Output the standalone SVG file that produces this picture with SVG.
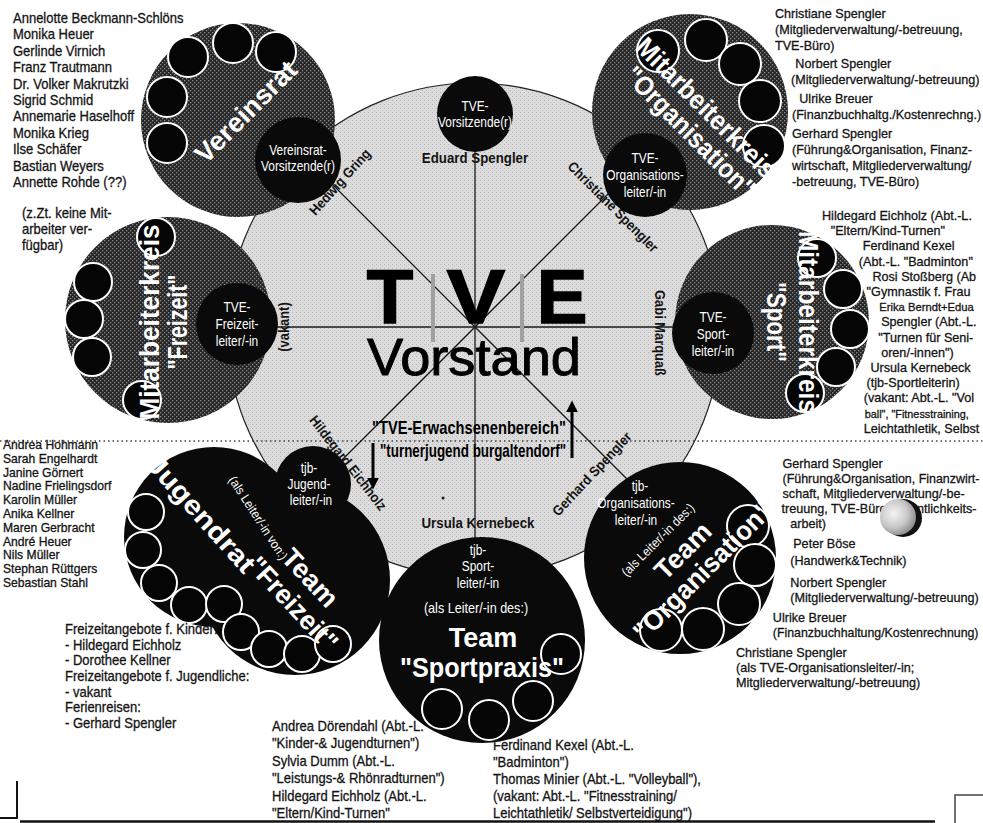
<svg xmlns="http://www.w3.org/2000/svg" width="983" height="823" viewBox="0 0 983 823">
<defs>
<pattern id="dk" width="4" height="4" patternUnits="userSpaceOnUse"><rect width="4" height="4" fill="#262626"/><rect x="0" y="0" width="1.3" height="1.3" fill="#8a8a8a"/><rect x="2" y="2" width="1.3" height="1.3" fill="#8a8a8a"/></pattern>
<pattern id="lt" width="4" height="4" patternUnits="userSpaceOnUse"><rect width="4" height="4" fill="#dcdcdc"/><rect x="0" y="0" width="1" height="1" fill="#b3b3b3"/><rect x="2" y="2" width="1" height="1" fill="#c0c0c0"/></pattern>
<radialGradient id="ball" cx="0.38" cy="0.4" r="0.65"><stop offset="0" stop-color="#f4f4f4"/><stop offset="0.6" stop-color="#c8c8c8"/><stop offset="1" stop-color="#8a8a8a"/></radialGradient>
<marker id="ah" viewBox="0 0 10 10" refX="2" refY="5" markerWidth="4" markerHeight="4" orient="auto"><path d="M0,0 L10,5 L0,10 z" fill="#000"/></marker>
<style>
text{font-family:'Liberation Sans',Arial,Helvetica,sans-serif}
.t{font-size:14px;fill:#141414;stroke:#141414;stroke-width:0.3}
.r{font-size:13px;fill:#141414;stroke:#141414;stroke-width:0.3}
.s{font-size:12.5px;fill:#141414;stroke:#141414;stroke-width:0.3}
.w{font-size:14px;fill:#fff}
.lb{font-size:14px;font-weight:bold;fill:#141414}
.big{font-size:27px;font-weight:bold;fill:#fff}
.c{text-anchor:middle;dominant-baseline:central}
.dk{fill:url(#dk)}
.bk{fill:#0a0a0a}
.sc{fill:#050505;stroke:#fff;stroke-width:2}
.sp{stroke:#1a1a1a;stroke-width:1.3;fill:none}
.tve{font-size:76px;font-weight:bold;fill:#000;stroke:#000;stroke-width:1.6}
</style>
</defs>
<rect width="983" height="823" fill="#fff"/>

<g id="vorstand-disc">
<circle cx="474" cy="330" r="247" fill="url(#lt)" stroke="#222" stroke-width="1.2"/>
</g>
<line x1="0" y1="441" x2="983" y2="441" stroke="#444" stroke-width="1.3" stroke-dasharray="1.5,3"/>

<g id="connectors" class="sp">
<line x1="475" y1="150" x2="475" y2="545"/>
<line x1="275" y1="327" x2="675" y2="327"/>
<line x1="330" y1="182" x2="630" y2="482"/>
<line x1="625" y1="177" x2="315" y2="487"/>
</g>

<g id="vereinsrat">
<circle cx="238" cy="120" r="97" class="dk"/>
<circle cx="167" cy="143" r="20" class="sc"/>
<circle cx="167" cy="97" r="20" class="sc"/>
<circle cx="188" cy="57" r="20" class="sc"/>
<circle cx="233" cy="43" r="20" class="sc"/>
<circle cx="276" cy="52" r="20" class="sc"/>
<text class="big c" transform="translate(246,112) rotate(-45)" textLength="132" lengthAdjust="spacingAndGlyphs">Vereinsrat</text>
</g>
<g id="vereinsrat-vorsitz">
<circle cx="298" cy="160" r="43" class="bk"/>
<text class="w c" transform="translate(298,150) scale(0.85,1)">Vereinsrat-</text>
<text class="w c" transform="translate(298,166) scale(0.85,1)">Vorsitzende(r)</text>
</g>

<g id="tve-vorsitz">
<circle cx="475" cy="114" r="38" class="bk"/>
<text class="w c" transform="translate(475,106) scale(0.85,1)">TVE-</text>
<text class="w c" transform="translate(475,122) scale(0.85,1)">Vorsitzende(r)</text>
</g>

<g id="mk-organisation">
<circle cx="690" cy="112" r="98" class="dk"/>
<circle cx="658" cy="51" r="21" class="sc"/>
<circle cx="706" cy="40" r="21" class="sc"/>
<circle cx="740" cy="64" r="21" class="sc"/>
<circle cx="760" cy="101" r="21" class="sc"/>
<circle cx="764" cy="146" r="21" class="sc"/>
<text class="big c" transform="translate(706,108) rotate(45)" textLength="186" lengthAdjust="spacingAndGlyphs">Mitarbeiterkreis</text>
<text class="big c" transform="translate(690,132) rotate(45)" textLength="172" lengthAdjust="spacingAndGlyphs">"Organisation"</text>
</g>
<g id="tve-orgaleiter">
<circle cx="645" cy="175" r="42" class="bk"/>
<text class="w c" transform="translate(645,158) scale(0.85,1)">TVE-</text>
<text class="w c" transform="translate(645,175) scale(0.85,1)">Organisations-</text>
<text class="w c" transform="translate(645,192) scale(0.85,1)">leiter/-in</text>
</g>

<g id="mk-sport">
<circle cx="772" cy="322" r="97" class="dk"/>
<circle cx="817" cy="258" r="19" class="sc"/>
<circle cx="843" cy="289" r="19" class="sc"/>
<circle cx="850" cy="329" r="19" class="sc"/>
<circle cx="836" cy="367" r="19" class="sc"/>
<circle cx="805" cy="393" r="19" class="sc"/>
<text class="big c" transform="translate(808,322) rotate(90)" textLength="182" lengthAdjust="spacingAndGlyphs">Mitarbeiterkreis</text>
<text class="big c" transform="translate(776,322) rotate(90)" textLength="80" lengthAdjust="spacingAndGlyphs">"Sport"</text>
</g>
<g id="tve-sportleiter">
<circle cx="713" cy="333" r="41" class="bk"/>
<text class="w c" transform="translate(713,317) scale(0.85,1)">TVE-</text>
<text class="w c" transform="translate(713,334) scale(0.85,1)">Sport-</text>
<text class="w c" transform="translate(713,351) scale(0.85,1)">leiter/-in</text>
</g>

<g id="mk-freizeit">
<circle cx="168" cy="320" r="103" class="dk"/>
<circle cx="156" cy="237" r="19" class="sc"/>
<circle cx="93" cy="282" r="19" class="sc"/>
<circle cx="84" cy="319" r="19" class="sc"/>
<circle cx="92" cy="357" r="19" class="sc"/>
<circle cx="142" cy="400" r="19" class="sc"/>
<text class="big c" transform="translate(150,322) rotate(-90)" textLength="195" lengthAdjust="spacingAndGlyphs">Mitarbeiterkreis</text>
<text class="big c" transform="translate(178,322) rotate(-90)" textLength="95" lengthAdjust="spacingAndGlyphs">"Freizeit"</text>
</g>
<g id="tve-freizeitleiter">
<circle cx="237" cy="324" r="41" class="bk"/>
<text class="w c" transform="translate(237,307) scale(0.85,1)">TVE-</text>
<text class="w c" transform="translate(237,324) scale(0.85,1)">Freizeit-</text>
<text class="w c" transform="translate(237,341) scale(0.85,1)">leiter/-in</text>
</g>

<g id="jugendrat-team-freizeit">
<circle cx="214" cy="537" r="90" class="bk"/>
<circle cx="295" cy="580" r="95" class="bk"/>
<circle cx="146" cy="512" r="18" class="sc"/>
<circle cx="143" cy="550" r="18" class="sc"/>
<circle cx="159" cy="583" r="18" class="sc"/>
<circle cx="189" cy="605" r="18" class="sc"/>
<circle cx="224" cy="604" r="18" class="sc"/>
<circle cx="241" cy="632" r="18" class="sc"/>
<circle cx="269" cy="649" r="18" class="sc"/>
<circle cx="302" cy="654" r="18" class="sc"/>
<circle cx="333" cy="644" r="18" class="sc"/>
<text class="big c" transform="translate(201,514) rotate(48)" textLength="148" lengthAdjust="spacingAndGlyphs">Jugendrat</text>
<text class="big c" transform="translate(310,578) rotate(47)">Team</text>
<text class="big c" transform="translate(293,604) rotate(47)" textLength="118" lengthAdjust="spacingAndGlyphs">"Freizeit"</text>
<text class="w c" transform="translate(258,518) rotate(57) scale(0.9,1)" style="font-size:13px">(als Leiter/-in von:)</text>
</g>
<g id="tjb-jugendleiter">
<circle cx="313" cy="484" r="38" class="bk"/>
<text class="w c" transform="translate(309,468) scale(0.85,1)">tjb-</text>
<text class="w c" transform="translate(309,484) scale(0.85,1)">Jugend-</text>
<text class="w c" transform="translate(311,500) scale(0.85,1)">leiter/-in</text>
</g>

<g id="team-sportpraxis">
<circle cx="482" cy="640" r="103" class="bk"/>
<circle cx="561" cy="654" r="20" class="sc"/>
<circle cx="533" cy="701" r="20" class="sc"/>
<circle cx="489" cy="720" r="20" class="sc"/>
<circle cx="442" cy="709" r="20" class="sc"/>
<text class="w c" transform="translate(478,550) scale(0.85,1)">tjb-</text>
<text class="w c" transform="translate(478,566) scale(0.85,1)">Sport-</text>
<text class="w c" transform="translate(478,583) scale(0.85,1)">leiter/-in</text>
<text class="w c" transform="translate(476,608) scale(0.9,1)">(als Leiter/-in des:)</text>
<text class="big c" transform="translate(483,638)">Team</text>
<text class="big c" transform="translate(482,668)" textLength="164" lengthAdjust="spacingAndGlyphs">"Sportpraxis"</text>
</g>

<g id="team-organisation">
<circle cx="680" cy="558" r="96" class="bk"/>
<circle cx="748" cy="526" r="21" class="sc"/>
<circle cx="755" cy="565" r="21" class="sc"/>
<circle cx="739" cy="604" r="21" class="sc"/>
<circle cx="703" cy="629" r="21" class="sc"/>
<circle cx="661" cy="630" r="21" class="sc"/>
<text class="w c" transform="translate(640,486) scale(0.85,1)">tjb-</text>
<text class="w c" transform="translate(636,503) scale(0.85,1)">Organisations-</text>
<text class="w c" transform="translate(636,520) scale(0.85,1)">leiter/-in</text>
<text class="w c" transform="translate(658,540) rotate(-45) scale(0.9,1)" style="font-size:13px">(als Leiter/-in des:)</text>
<text class="big c" transform="translate(683,551) rotate(-45)">Team</text>
<text class="big c" transform="translate(703,571) rotate(-45)" textLength="184" lengthAdjust="spacingAndGlyphs">"Organisation"</text>
</g>

<g id="spoke-labels" class="lb">
<text class="c" transform="translate(475,158) scale(0.95,1)">Eduard Spengler</text>
<text class="c" transform="translate(340,182) rotate(-48) scale(0.92,1)">Hedwig Gring</text>
<text class="c" transform="translate(613,207) rotate(45) scale(0.92,1)">Christiane Spengler</text>
<text class="c" transform="translate(284,327) rotate(-90) scale(0.92,1)">(vakant)</text>
<text class="c" transform="translate(660,333) rotate(90) scale(0.92,1)">Gabi Marquaß</text>
<text class="c" transform="translate(348,463) rotate(52) scale(0.92,1)">Hildegard Eichholz</text>
<text class="c" transform="translate(592,474) rotate(-47) scale(0.92,1)">Gerhard Spengler</text>
<text class="c" transform="translate(478,523) scale(0.95,1)">Ursula Kernebeck</text>
</g>

<g id="center-title">
<rect x="431" y="274" width="4" height="68" fill="#a0a0a0"/>
<rect x="520" y="274" width="4" height="68" fill="#a0a0a0"/>
<text x="390" y="323" text-anchor="middle" class="tve">T</text>
<text transform="translate(476,323) scale(1.15,1)" text-anchor="middle" class="tve">V</text>
<text x="562" y="323" text-anchor="middle" class="tve">E</text>
<text x="474" y="375" text-anchor="middle" textLength="214" lengthAdjust="spacingAndGlyphs" style="font-size:52px;fill:#000;stroke:#000;stroke-width:0.9">Vorstand</text>
<text x="372" y="434" textLength="194" lengthAdjust="spacingAndGlyphs" style="font-size:19px;font-weight:bold;fill:#000">"TVE-Erwachsenenbereich"</text>
<text x="380" y="457" textLength="186" lengthAdjust="spacingAndGlyphs" style="font-size:19px;font-weight:bold;fill:#000">"turnerjugend burgaltendorf"</text>
<line x1="572" y1="458" x2="572" y2="410" stroke="#000" stroke-width="3" marker-end="url(#ah)"/>
<line x1="373" y1="443" x2="373" y2="480" stroke="#000" stroke-width="3" marker-end="url(#ah)"/>
<circle cx="443" cy="498" r="1.5" fill="#111"/>
</g>

<g id="list-vereinsrat" class="t" transform="translate(13,0) scale(0.93,1)">
<text x="0" y="23">Annelotte Beckmann-Schlöns</text>
<text x="0" y="39.4">Monika Heuer</text>
<text x="0" y="55.8">Gerlinde Virnich</text>
<text x="0" y="72.2">Franz Trautmann</text>
<text x="0" y="88.6">Dr. Volker Makrutzki</text>
<text x="0" y="105">Sigrid Schmid</text>
<text x="0" y="121.4">Annemarie Haselhoff</text>
<text x="0" y="137.8">Monika Krieg</text>
<text x="0" y="154.2">Ilse Schäfer</text>
<text x="0" y="170.6">Bastian Weyers</text>
<text x="0" y="187">Annette Rohde (??)</text>
</g>

<g id="list-mk-organisation" class="r" transform="translate(775,0) scale(0.97,1)">
<text x="0" y="18">Christiane Spengler</text>
<text x="0" y="34">(Mitgliederverwaltung/-betreuung,</text>
<text x="0" y="50">TVE-Büro)</text>
<text x="21" y="68">Norbert Spengler</text>
<text x="16.5" y="84">(Mitgliederverwaltung/-betreuung)</text>
<text x="25" y="103">Ulrike Breuer</text>
<text x="17.5" y="119">(Finanzbuchhaltg./Kostenrechng.)</text>
<text x="17.5" y="138">Gerhard Spengler</text>
<text x="17.5" y="154">(Führung&amp;Organisation, Finanz-</text>
<text x="17.5" y="170">wirtschaft, Mitgliederverwaltung/</text>
<text x="17.5" y="186">-betreuung, TVE-Büro)</text>
</g>

<g id="list-mk-sport" class="r" transform="translate(822,0) scale(0.97,1)">
<text x="0" y="220">Hildegard Eichholz (Abt.-L.</text>
<text x="9" y="235.2">"Eltern/Kind-Turnen"</text>
<text x="42" y="250.4">Ferdinand Kexel</text>
<text x="38" y="265.6">(Abt.-L. "Badminton"</text>
<text x="52" y="280.8">Rosi Stoßberg (Ab</text>
<text x="46" y="296">"Gymnastik f. Frau</text>
<text x="59" y="311.2" style="font-size:11.6px">Erika Berndt+Edua</text>
<text x="61" y="326.4">Spengler (Abt.-L.</text>
<text x="58" y="341.6">"Turnen für Seni-</text>
<text x="61" y="356.8">oren/-innen")</text>
<text x="50" y="372">Ursula Kernebeck</text>
<text x="46" y="387.2">(tjb-Sportleiterin)</text>
<text x="43" y="402.4">(vakant: Abt.-L. "Vol</text>
<text x="44" y="417.6" style="font-size:11.2px">ball", "Fitnesstraining,</text>
<text x="43" y="432.8">Leichtathletik, Selbst</text>
</g>

<g id="list-mk-freizeit" class="t" transform="translate(22,0) scale(0.93,1)">
<text x="0" y="218">(z.Zt. keine Mit-</text>
<text x="0" y="234">arbeiter ver-</text>
<text x="0" y="250">fügbar)</text>
</g>

<g id="list-jugendrat" class="s" transform="translate(3,0) scale(0.97,1)">
<text x="0" y="449">Andrea Hohmann</text>
<text x="0" y="462.8">Sarah Engelhardt</text>
<text x="0" y="476.6">Janine Görnert</text>
<text x="0" y="490.4">Nadine Frielingsdorf</text>
<text x="0" y="504.2">Karolin Müller</text>
<text x="0" y="518">Anika Kellner</text>
<text x="0" y="531.8">Maren Gerbracht</text>
<text x="0" y="545.6">André Heuer</text>
<text x="0" y="559.4">Nils Müller</text>
<text x="0" y="573.2">Stephan Rüttgers</text>
<text x="0" y="587">Sebastian Stahl</text>
</g>

<g id="list-team-organisation" class="r" transform="translate(736,0) scale(0.97,1)">
<text x="48" y="468">Gerhard Spengler</text>
<text x="48" y="483" textLength="203" lengthAdjust="spacingAndGlyphs">(Führung&amp;Organisation, Finanzwirt-</text>
<text x="48" y="498">schaft, Mitgliederverwaltung/-be-</text>
<text x="47" y="513">treuung, TVE-Büro, Öffentlichkeits-</text>
<text x="56" y="528">arbeit)</text>
<text x="59" y="548">Peter Böse</text>
<text x="56" y="565">(Handwerk&amp;Technik)</text>
<text x="56" y="587">Norbert Spengler</text>
<text x="56" y="602">(Mitgliederverwaltung/-betreuung)</text>
<text x="38" y="622">Ulrike Breuer</text>
<text x="38" y="637" textLength="212" lengthAdjust="spacingAndGlyphs">(Finanzbuchhaltung/Kostenrechnung)</text>
<text x="0" y="657">Christiane Spengler</text>
<text x="0" y="672">(als TVE-Organisationsleiter/-in;</text>
<text x="0" y="687">Mitgliederverwaltung/-betreuung)</text>
</g>
<g id="pin">
<circle cx="903" cy="518" r="19" fill="#111"/>
<circle cx="898" cy="517" r="18" fill="url(#ball)"/>
</g>

<g id="list-team-freizeit" class="t" transform="translate(65,0) scale(0.93,1)">
<text x="0" y="634">Freizeitangebote f. Kinder:</text>
<text x="0" y="649.7">- Hildegard Eichholz</text>
<text x="0" y="665.4">- Dorothee Kellner</text>
<text x="0" y="681">Freizeitangebote f. Jugendliche:</text>
<text x="0" y="696.8">- vakant</text>
<text x="0" y="712.5">Ferienreisen:</text>
<text x="0" y="728.2">- Gerhard Spengler</text>
</g>

<g id="list-sportpraxis-left" class="t" transform="translate(272,0) scale(0.93,1)">
<text x="0" y="731">Andrea Dörendahl (Abt.-L.</text>
<text x="0" y="748.5">"Kinder-&amp; Jugendturnen")</text>
<text x="0" y="766">Sylvia Dumm (Abt.-L.</text>
<text x="0" y="783.5">"Leistungs-&amp; Rhönradturnen")</text>
<text x="0" y="801">Hildegard Eichholz (Abt.-L.</text>
<text x="0" y="818.5">"Eltern/Kind-Turnen"</text>
</g>
<g id="list-sportpraxis-right" class="t" transform="translate(493,0) scale(0.93,1)">
<text x="0" y="750">Ferdinand Kexel  (Abt.-L.</text>
<text x="0" y="767">"Badminton")</text>
<text x="0" y="784">Thomas Minier (Abt.-L. "Volleyball"),</text>
<text x="0" y="801">(vakant: Abt.-L. "Fitnesstraining/</text>
<text x="0" y="818.5">Leichtathletik/ Selbstverteidigung")</text>
</g>

<g id="page-edges" fill="none" stroke="#111">
<line x1="20" y1="821.5" x2="935" y2="821.5" stroke-width="2.5"/>
<path d="M0,818 H17 V781" stroke-width="2"/>
<path d="M983,795 H955 V823" stroke-width="1.5" stroke="#444"/>
</g>
</svg>
